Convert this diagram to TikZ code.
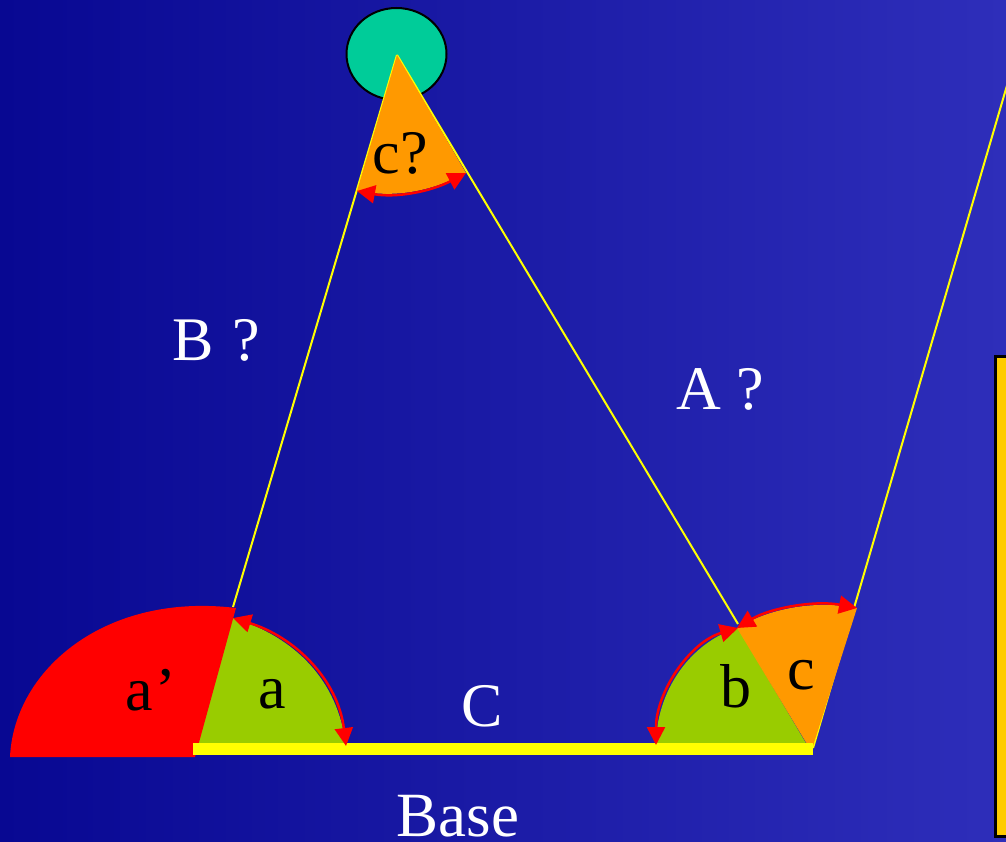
\documentclass[tikz,border=0pt]{standalone}
\usepackage{fontspec}
\setmainfont{Liberation Serif}
\usetikzlibrary{arrows.meta}
\definecolor{bgleft}{RGB}{8,8,146}
\definecolor{bgright}{RGB}{46,46,186}
\definecolor{sight}{RGB}{255,255,0}
\definecolor{star}{RGB}{0,204,153}
\definecolor{wedgeorange}{RGB}{255,153,0}
\definecolor{wedgegreen}{RGB}{153,204,0}
\definecolor{notebox}{RGB}{255,204,0}
\definecolor{arcred}{RGB}{255,0,0}
\tikzset{
  sightline/.style={draw=sight,line width=2pt},
  anglearc/.style={draw=arcred,line width=2.5pt,{Triangle[length=18pt,width=18pt,fill=arcred]}-{Triangle[length=18pt,width=18pt,fill=arcred]}},
  dark/.style={font=\fontsize{62}{62}\selectfont,text=black,inner sep=0pt},
  light/.style={font=\fontsize{62}{62}\selectfont,text=white,inner sep=0pt},
}
\begin{document}
\begin{tikzpicture}[x=1pt,y=-1pt]
\useasboundingbox (0,0) rectangle (1006,842);
\clip (0,0) rectangle (1006,842);
\shade[left color=bgleft,right color=bgright] (0,0) rectangle (1006,842);
% coordinates
\coordinate (apex) at (397,55);
\coordinate (baseL) at (233,607);
\coordinate (baseR) at (738,624);
\coordinate (corner) at (813,748);
\coordinate (farR) at (1008,82);
\coordinate (cqL) at (357,191);
\coordinate (cqR) at (466,173);
\coordinate (aTop) at (233,618);
\coordinate (aEnd) at (346,746);
\coordinate (bTop) at (738,628);
\coordinate (bEnd) at (656,745);
\coordinate (cTop) at (737,628);
\coordinate (cEnd) at (857,608);
% box and star
\draw[black,line width=3pt,fill=notebox] (995.5,356.5) rectangle (1020,836.5);
\draw[black,line width=2pt,fill=star] (396.5,54) ellipse [x radius=50,y radius=46];
% sight lines
\path[sightline] (apex) -- (baseL);
\path[sightline] (apex) -- (baseR);
\path[sightline] (corner) -- (farR);
% wedges
\fill[wedgegreen] (195,745) -- (228,618) -- (aTop) .. controls (295,637) and (338,680) .. (aEnd) -- cycle;
\fill[arcred] (10,757) .. controls (14,670) and (105,592) .. (236,608) -- (195,757) -- cycle;
\fill[wedgegreen] (807,745) -- (bTop) .. controls (690,642) and (656,692) .. (bEnd) -- cycle;
\fill[wedgeorange] (807,744) -- (cTop) .. controls (770,608) and (815,600) .. (cEnd) -- (813,746) -- cycle;
\fill[wedgeorange] (apex) -- (cqR) .. controls (430,192) and (395,198) .. (cqL) -- cycle;
% base
\fill[sight] (193,743) rectangle (813,755);
% arcs
\draw[anglearc] (aTop) .. controls (295,637) and (338,680) .. (aEnd);
\draw[anglearc] (bTop) .. controls (690,642) and (656,692) .. (bEnd);
\draw[anglearc] (cTop) .. controls (770,608) and (815,600) .. (cEnd);
\draw[anglearc] (cqR) .. controls (430,192) and (395,198) .. (cqL);
% labels
\node[light,anchor=base west] (lblB) at (172,360) {B\kern19pt?};
\node[light,anchor=base west] (lblA) at (676,409) {A ?};
\node[light,anchor=base] (lblC) at (482,726) {C};
\node[light,anchor=base,font=\fontsize{63}{63}\selectfont] (lblBase) at (458,836) {Base};
\node[dark,anchor=base west] (lblcq) at (372,174) {c\kern1pt?};
\node[dark,anchor=base west] (lblap) at (125,710) {a\kern3pt’};
\node[dark,anchor=base west] (lbla) at (258,708) {a};
\node[dark,anchor=base west] (lblb) at (720,707) {b};
\node[dark,anchor=base west] (lblc) at (787,689) {c};
\end{tikzpicture}
\end{document}
